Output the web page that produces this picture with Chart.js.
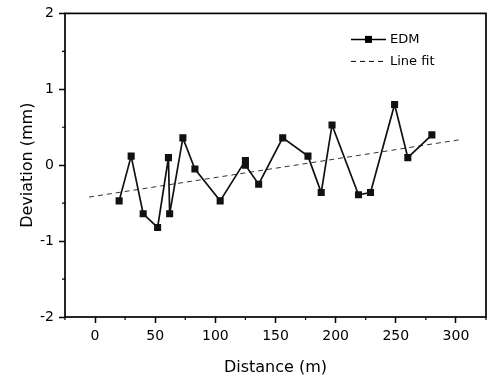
<!DOCTYPE html>
<html>
<head>
    <title>Deviation vs Distance</title>
    <script src="https://cdn.jsdelivr.net/npm/chart.js"></script>
    <style>
body{
    margin: 0;
    background-color: #ffffff;
}
    </style>
</head>
<body>
    <canvas id="deviationChart" width="493" height="379"></canvas>

    <script>
        // EDM measurements
        const edmDistance = [20, 30, 40, 52, 61, 62, 73, 83, 104, 125, 125, 136, 156, 177, 188, 197, 219, 229, 249, 260, 280];
        const edmDeviation = [-0.47, 0.12, -0.64, -0.82, 0.10, -0.64, 0.36, -0.05, -0.47, 0.06, 0.00, -0.25, 0.36, 0.12, -0.36, 0.53, -0.39, -0.36, 0.80, 0.10, 0.40];

        // fitted line end points
        const fitDistance = [-5, 305];
        const fitDeviation = [-0.42, 0.34];

        const xTicks = [0, 50, 100, 150, 200, 250, 300];
        const xMinorTicks = [-25, 25, 75, 125, 175, 225, 275, 325];
        const yTicks = [-2, -1, 0, 1, 2];
        const yMinorTicks = [-1.5, -0.5, 0.5, 1.5];

        const seriesLabels = ['EDM', 'Line fit'];

        Chart.defaults.font.family = '"DejaVu Sans", sans-serif';
        Chart.defaults.color = '#000';

        // frame, minor ticks and the legend
        const framePlugin = {
            id: 'frame',
            afterDraw(chart) {
                const ctx = chart.ctx;
                const a = chart.chartArea;
                const xs = chart.scales.x, ys = chart.scales.y;
                ctx.save();
                ctx.strokeStyle = '#000';
                ctx.lineWidth = 1.7;
                ctx.strokeRect(a.left, a.top, a.right - a.left, a.bottom - a.top);

                ctx.lineWidth = 1.2;
                ctx.beginPath();
                xMinorTicks.forEach(v => {
                    const px = xs.getPixelForValue(v);
                    ctx.moveTo(px, a.bottom);
                    ctx.lineTo(px, a.bottom + 3);
                });
                yMinorTicks.forEach(v => {
                    const py = ys.getPixelForValue(v);
                    ctx.moveTo(a.left, py);
                    ctx.lineTo(a.left - 3, py);
                });
                ctx.stroke();

                // legend
                const lx = a.right - 135;
                const ly = a.top + 26;
                ctx.font = '13px "DejaVu Sans", sans-serif';
                ctx.textBaseline = 'middle';
                ctx.fillStyle = '#000';

                ctx.lineWidth = 1.5;
                ctx.beginPath();
                ctx.moveTo(lx, ly);
                ctx.lineTo(lx + 35, ly);
                ctx.stroke();
                ctx.fillRect(lx + 14, ly - 3.5, 7, 7);
                ctx.fillText(seriesLabels[0], lx + 39, ly);

                ctx.lineWidth = 1;
                ctx.setLineDash([5, 4]);
                ctx.beginPath();
                ctx.moveTo(lx, ly + 22);
                ctx.lineTo(lx + 35, ly + 22);
                ctx.stroke();
                ctx.setLineDash([]);
                ctx.fillText(seriesLabels[1], lx + 39, ly + 22);
                ctx.restore();
            }
        };

        new Chart(document.getElementById('deviationChart'), {
            type: 'scatter',
            data: {
                datasets: [{
                    label: seriesLabels[0],
                    data: edmDistance.map((d, i) => ({x: d, y: edmDeviation[i]})),
                    showLine: true,
                    borderColor: '#111',
                    backgroundColor: '#111',
                    borderWidth: 1.7,
                    pointStyle: 'rect',
                    pointRadius: 5,
                    pointBorderWidth: 0
                }, {
                    label: seriesLabels[1],
                    data: fitDistance.map((d, i) => ({x: d, y: fitDeviation[i]})),
                    showLine: true,
                    borderColor: '#333',
                    borderWidth: 1,
                    borderDash: [5, 4],
                    pointRadius: 0
                }]
            },
            options: {
                responsive: false,
                animation: false,
                layout: {padding: {top: 13, right: 7, left: 0, bottom: 0}},
                plugins: {legend: {display: false}, tooltip: {enabled: false}},
                scales: {
                    x: {
                        type: 'linear',
                        min: -25,
                        max: 325,
                        afterBuildTicks: s => { s.ticks = xTicks.map(v => ({value: v})); },
                        afterFit: s => { s.height = 62; },
                        grid: {drawOnChartArea: false, tickLength: 6, tickWidth: 1.5, tickColor: '#000'},
                        border: {display: false},
                        ticks: {font: {size: 14}, padding: 5, maxRotation: 0},
                        title: {display: true, text: 'Distance (m)', font: {size: 16}, padding: {top: 0, bottom: 2}}
                    },
                    y: {
                        min: -2,
                        max: 2,
                        afterBuildTicks: s => { s.ticks = yTicks.map(v => ({value: v})); },
                        afterFit: s => { s.width = 65; },
                        grid: {drawOnChartArea: false, tickLength: 6, tickWidth: 1.5, tickColor: '#000'},
                        border: {display: false},
                        ticks: {font: {size: 14}, padding: 5},
                        title: {display: true, text: 'Deviation (mm)', font: {size: 16}, padding: {top: 18, bottom: 0}}
                    }
                }
            },
            plugins: [framePlugin]
        });
    </script>
</body>
</html>
